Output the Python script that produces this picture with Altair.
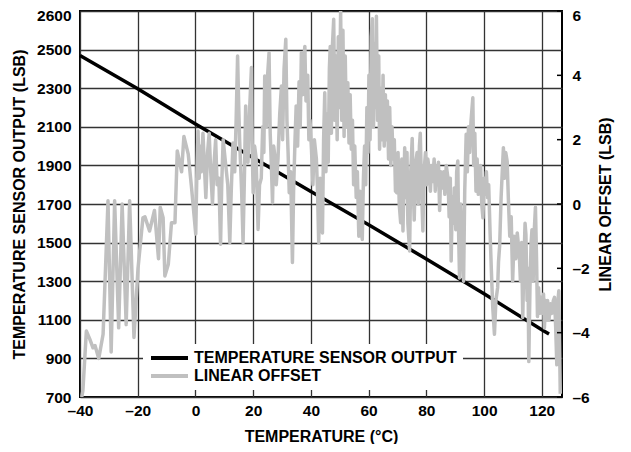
import altair as alt
import pandas as pd

S1 = "TEMPERATURE SENSOR OUTPUT"
S2 = "LINEAR OFFSET"

# Temperature sensor output (left axis, LSB)
out_t = [-40, -20, 0, 20, 40, 60, 80, 100, 120, 122.5]
out_v = [2470, 2297, 2115, 1940, 1765, 1592, 1415, 1235, 1048, 1026]

# Linear offset (right axis, LSB), read segment by segment
seg_a_t = [-39.4, -39.0, -37.8, -36.6, -35.5, -34.8, -33.5, -32.0, -30.3, -29.2,
           -28.0, -26.6, -25.4, -24.0, -22.8, -21.3, -19.9, -18.2, -17.5, -15.9,
           -14.2, -12.8, -12.2, -11.2, -10.6, -9.4, -8.3, -7.1, -6.3, -4.8,
           -4.0, -2.5, -1.35]
seg_a_v = [-6.0, -5.8, -3.95, -4.2, -4.47, -4.4, -4.8, -4.05, 0.1, -4.6,
           0.1, -3.85, 0.0, -3.75, 0.1, -4.15, -2.0, -0.43, -0.4, -0.84,
           -0.2, -1.7, -0.1, -0.43, -2.24, -1.87, -0.58, -0.58, 1.65, 1.0,
           2.1, 1.55, 0.5]

seg_b_t = [0.1, 0.5, 0.9, 1.3, 1.6, 2.0, 2.6, 3.1, 3.6, 4.2,
           4.75, 5.3, 5.9, 6.4, 7.0, 7.5, 8.1, 8.7, 9.1, 9.6,
           10.5, 11.2, 11.9, 12.4, 13.0, 13.6, 14.1, 14.6, 15.0]
seg_b_v = [-0.93, 1.0, 2.27, 0.8, 1.8, 1.0, 2.2, 1.2, 0.2, 1.6,
           2.2, 1.0, 0.0, 1.2, 2.0, 0.6, 0.8, -1.25, 0.6, 2.0,
           1.2, 0.6, -1.2, 0.4, 1.9, 1.0, 2.6, 4.6, 3.0]

seg_c_t = [15.3, 16.0, 16.5, 17.0, 17.4, 17.8, 18.2, 18.8, 19.4, 19.7,
           20.0, 20.5, 21.0, 21.7, 22.2, 22.8, 23.3, 23.7, 24.0, 24.6,
           25.0, 25.5, 25.9, 26.3, 26.7, 27.1, 27.5, 28.0, 28.6, 29.2,
           29.8, 30.2, 30.7, 31.3, 31.7, 32.1, 32.5, 33.0, 33.6, 34.0,
           34.5, 34.9, 35.4, 35.9, 36.3, 36.7, 37.1, 37.5, 37.9, 38.3,
           38.9, 39.3, 39.7, 40.2, 40.7, 41.2, 41.9, 42.3]
seg_c_v = [2.0, 0.4, -1.2, 1.0, 3.05, 1.6, 1.3, 3.0, 4.24, 1.6,
           0.35, 1.8, 1.45, -0.79, 0.6, 0.8, 2.4, 1.6, 3.98, 2.4,
           4.0, 4.7, 2.2, 1.2, 0.04, 1.8, 1.5, 0.6, 1.4, 2.8,
           3.67, 2.0, 4.2, 5.12, 2.6, 1.6, 0.35, 1.0, -1.82, 0.4,
           2.0, 3.05, 1.8, 3.8, 2.4, 4.7, 3.4, 4.4, 4.9, 3.2,
           4.0, 2.0, 2.6, 1.7, 0.6, 2.0, 1.4, 0.4]

seg_d_t = [42.7, 43.2, 43.6, 44.0, 44.4, 44.8, 45.2, 45.6, 46.0, 46.4,
           46.7, 47.1, 47.5, 47.9, 48.3, 48.7, 49.1, 49.5, 49.9, 50.3,
           50.7, 51.1, 51.5, 51.9, 52.3, 52.8, 53.2, 53.6, 54.0, 54.4,
           54.8, 55.2, 55.7, 56.1, 56.6, 57.0, 57.4, 57.8, 58.2, 58.6,
           59.0, 59.4, 59.8, 60.1, 60.5, 60.9, 61.3, 61.7, 62.1, 62.5,
           62.7, 63.1, 63.5, 63.8, 64.2, 64.6, 65.0, 65.4, 65.8, 66.1,
           66.5, 66.9, 67.3, 67.7, 68.1, 68.5, 68.9, 69.3, 69.8, 70.2,
           70.6, 71.1, 71.5, 71.9]
seg_d_v = [-1.2, 0.8, -0.2, -0.9, 2.0, 3.46, 1.0, 2.8, 1.3, 4.2,
           4.9, 2.2, 5.0, 5.74, 2.6, 4.6, 2.0, 5.2, 3.0, 6.0,
           2.6, 5.4, 2.1, 4.6, 2.4, 3.77, 1.9, 3.4, 1.7, 2.6,
           0.6, 1.8, 0.2, 1.0, -1.0, 0.4, -0.8, -1.1, 0.8, 1.8,
           0.6, 3.0, 1.6, 4.0, 2.0, 5.2, 5.76, 2.4, 5.0, 3.0,
           5.84, 2.6, 4.6, 1.7, 3.6, 2.0, 4.0, 1.8, 3.4, 2.0,
           3.2, 1.4, 3.0, 1.2, 2.4, 1.4, 2.0, 0.4, 0.35, 1.6,
           0.0, -0.58, 1.4, -0.84]

seg_e_t = [72.5, 72.9, 73.3, 73.6, 74.2, 74.6, 75.1, 75.5, 75.8, 76.2,
           76.8, 77.2, 77.6, 77.9, 78.3, 78.8, 79.2, 79.7, 80.1, 80.5,
           80.9, 81.4, 81.8, 82.2, 82.7, 83.1, 83.4, 83.9, 84.2, 84.6,
           85.0, 85.5, 86.0, 86.4, 86.9, 87.5, 87.9, 88.3, 88.6, 89.0,
           89.4, 89.7, 90.2, 90.5, 90.9, 91.2, 91.5, 91.9, 92.4, 92.9,
           93.3, 93.8, 94.2, 94.6, 95.0, 95.5, 96.1, 96.4, 96.8, 97.2,
           97.6, 98.0, 98.4, 98.8, 99.2, 99.6, 100.0, 100.4, 100.8]
seg_e_v = [1.75, 0.2, 1.6, -0.6, -1.46, 1.0, 2.04, 0.4, -0.5, 1.2,
           1.6, 0.0, 1.8, 2.2, 0.6, -0.84, 1.0, 1.6, 0.6, 1.4,
           1.13, 0.4, 1.2, 0.7, 1.4, 0.4, 1.2, 0.6, 1.3, -0.2,
           1.0, 0.5, 1.0, 0.3, 1.2, 0.8, -0.4, 0.8, -1.77, 0.2,
           -0.6, 0.5, -0.8, 1.0, 1.34, -1.0, -2.3, 0.0, -1.2, -2.4,
           0.4, 2.17, 1.0, 2.4, 1.6, 2.6, 3.3, 1.2, 2.2, 0.4,
           1.4, 0.3, 0.6, 1.2, 0.0, -0.43, 0.8, 0.3, 1.0]

seg_f_t = [101.2, 101.6, 102.1, 102.5, 103.0, 103.6, 104.1, 104.7, 105.0, 105.4,
           105.9, 106.3, 106.7, 107.1, 107.5, 108.0, 108.4, 108.9, 109.4, 109.9,
           110.4, 111.0, 111.5, 112.2, 112.6, 113.0, 113.4, 113.8, 114.2, 114.5,
           114.9, 115.2, 115.5, 115.9, 116.3, 116.6, 117.0, 117.4, 117.8, 118.2,
           118.5, 118.9, 119.3, 119.7, 120.2, 120.6, 120.9, 121.3, 121.7, 122.0,
           122.5, 123.0, 123.5, 124.0, 124.4, 124.8, 125.2, 125.6, 125.9, 126.4]
seg_f_v = [0.2, 0.6, -0.94, -2.0, -3.2, -4.05, -3.0, -2.6, -1.8, -1.3,
           0.2, 1.0, 1.75, 0.8, 1.6, 1.33, 0.2, -1.0, -0.4, -2.4,
           -1.0, -1.7, -0.9, -1.56, -2.4, -1.2, -3.53, -1.8, -0.6, -0.95,
           -3.0, -2.0, -4.9, -2.6, -1.2, -0.8, -2.4, -0.8, -0.1, -1.8,
           -3.5, -2.6, -3.4, -2.9, -3.4, -2.8, -3.85, -3.0, -3.6, -3.0,
           -3.6, -3.1, -3.4, -3.0, -2.9, -3.8, -5.0, -3.0, -2.7, -5.9]

lin_t = seg_a_t + seg_b_t + seg_c_t + seg_d_t + seg_e_t + seg_f_t
lin_v = seg_a_v + seg_b_v + seg_c_v + seg_d_v + seg_e_v + seg_f_v

x_ticks = [-40, -20, 0, 20, 40, 60, 80, 100, 120]
left_ticks = [700, 900, 1100, 1300, 1500, 1700, 1900, 2100, 2300, 2500, 2700]
right_ticks = [-6, -4, -2, 0, 2, 4, 6]

df_out = pd.DataFrame({"t": out_t, "v": out_v, "s": S1})
df_lin = pd.DataFrame({"t": lin_t, "v": lin_v, "s": S2, "i": list(range(len(lin_t)))})
df_rt = pd.DataFrame({"v": right_ticks})

FONT = "Liberation Sans"
W, H = 482, 386
dash_expr = "datum.value < 0 ? '\u2013' + format(-datum.value, 'd') : format(datum.value, 'd')"

xscale = alt.Scale(domain=[-40, 127], nice=False, zero=False)
yright_scale = alt.Scale(domain=[-6, 6], nice=False, zero=False)

x_axis = alt.Axis(
    values=x_ticks, title="TEMPERATURE (\u00b0C)", labelExpr=dash_expr,
    grid=True, ticks=False, domain=False, labelPadding=6, titlePadding=10,
    labelFlush=False)

right_axis = alt.Axis(
    orient="right", values=right_ticks, labelExpr=dash_expr,
    title="LINEAR OFFSET (LSB)", grid=False, ticks=False,
    domain=False, labelPadding=10, titlePadding=8,
    titleAngle=270, titleBaseline="top", labelFlush=False,
    labelOffset={"condition": {"test": "datum.value == 6", "value": 4}, "value": 0})

color = alt.Color(
    "s:N",
    scale=alt.Scale(domain=[S1, S2], range=["#000000", "#c0c0c0"]),
    legend=alt.Legend(
        title=None, orient="none", legendX=63, legendY=333,
        fillColor="white", padding=6, symbolType="stroke", symbolSize=1369,
        symbolStrokeWidth=4, clipHeight=16, rowPadding=2,
        labelFont=FONT, labelFontSize=16, labelFontWeight="bold",
        labelColor="black", labelOffset=4, labelLimit=400,
    ),
)

black = alt.Chart(df_out).mark_line(strokeWidth=3.5).encode(
    x=alt.X("t:Q", scale=xscale, axis=x_axis),
    y=alt.Y("v:Q", scale=alt.Scale(domain=[700, 2700], nice=False, zero=False),
            axis=alt.Axis(values=left_ticks,
                          labelExpr="datum.value == 2700 ? '2600' : format(datum.value, 'd')",
                          title="TEMPERATURE SENSOR OUTPUT (LSB)", grid=True,
                          ticks=False, domain=False, labelPadding=9, titlePadding=9,
                          labelFlush=False,
                          labelOffset={"condition": {"test": "datum.value == 2700", "value": 4}, "value": 0})),
    color=color,
)

gray = alt.Chart(df_lin).mark_line(strokeWidth=3.5, clip=True, strokeJoin="round").encode(
    x=alt.X("t:Q", scale=xscale, axis=x_axis),
    y=alt.Y("v:Q", scale=yright_scale, axis=right_axis),
    order="i:Q",
    color=color,
)

rticks = alt.Chart(df_rt).mark_rule(color="black", strokeWidth=1.5).encode(
    x=alt.value(W - 5), x2=alt.value(W),
    y=alt.Y("v:Q", scale=yright_scale, axis=right_axis),
)

chart = alt.layer(black, alt.layer(gray, rticks)).resolve_scale(
    y="independent"
).properties(
    width=W, height=H,
    autosize=alt.AutoSizeParams(type="none"),
    padding={"left": 72, "top": 3, "right": 61, "bottom": 47},
).configure_view(
    stroke="black", strokeWidth=2
).configure_axis(
    labelFont=FONT, labelFontSize=15.5, labelFontWeight="bold", labelColor="black",
    titleFont=FONT, titleFontSize=16, titleFontWeight="bold", titleColor="black",
    gridColor="#333333", gridWidth=1.3, gridOpacity=1,
)

chart.save("out.html", embed_options={"renderer": "svg", "actions": False})
